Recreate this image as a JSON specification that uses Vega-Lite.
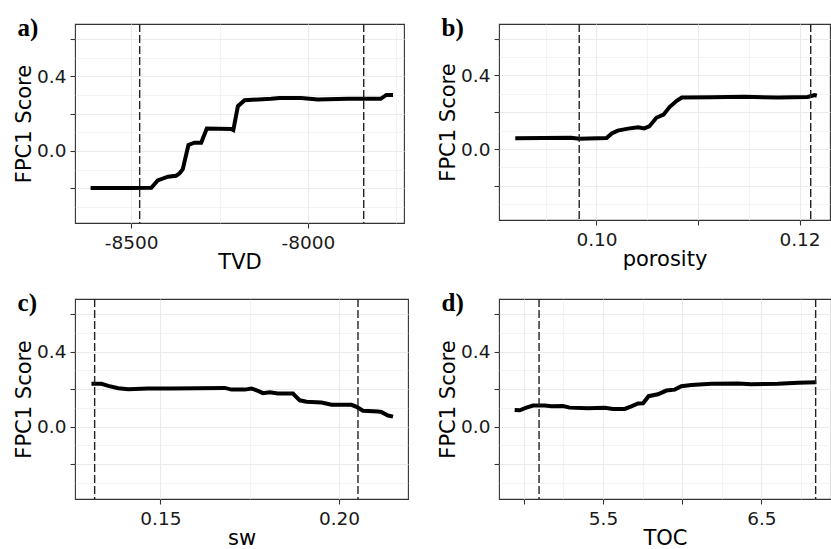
{
  "$schema": "https://vega.github.io/schema/vega-lite/v6.json",
  "padding": {"left": 13, "top": 15, "right": 0, "bottom": 0},
  "background": "white",
  "config": {
    "view": {"stroke": "#333333", "strokeWidth": 1.1},
    "axis": {
      "domain": false,
      "labelFont": "DejaVu Sans",
      "labelFontSize": 18.5,
      "labelColor": "#1a1a1a",
      "titleFont": "DejaVu Sans",
      "titleFontSize": 21,
      "titleFontWeight": "normal",
      "titleColor": "#000000",
      "tickSize": 5,
      "tickColor": "#333333",
      "tickWidth": 1.1,
      "gridColor": "#EBEBEB",
      "labelFlush": false,
      "labelOverlap": false
    },
    "axisX": {"labelPadding": 5, "titlePadding": 0},
    "axisY": {"labelPadding": 4, "titlePadding": 2},
    "title": {"anchor": "start", "frame": "bounds", "offset": -12, "dy": 6, "baseline": "alphabetic", "font": "Liberation Serif", "fontWeight": "bold", "fontSize": 25, "color": "#000000", "dx": 4}
  },
  "datasets": {
    "a": [
      {"x": -8615, "y": -0.199}, {"x": -8500, "y": -0.199}, {"x": -8443, "y": -0.197}, {"x": -8425, "y": -0.158},
      {"x": -8396, "y": -0.138}, {"x": -8373, "y": -0.133}, {"x": -8363, "y": -0.12}, {"x": -8354, "y": -0.098},
      {"x": -8338, "y": 0.032}, {"x": -8321, "y": 0.044}, {"x": -8302, "y": 0.044}, {"x": -8286, "y": 0.12},
      {"x": -8217, "y": 0.118}, {"x": -8211, "y": 0.112}, {"x": -8198, "y": 0.24}, {"x": -8179, "y": 0.272},
      {"x": -8104, "y": 0.279}, {"x": -8080, "y": 0.284}, {"x": -8019, "y": 0.284}, {"x": -7972, "y": 0.275},
      {"x": -7887, "y": 0.279}, {"x": -7794, "y": 0.279}, {"x": -7778, "y": 0.3}, {"x": -7759, "y": 0.3}
    ],
    "a_cut": [{"x": -8476}, {"x": -7842}],
    "b": [
      {"x": 0.0920, "y": 0.058}, {"x": 0.0975, "y": 0.061}, {"x": 0.0983, "y": 0.056}, {"x": 0.1010, "y": 0.060},
      {"x": 0.1015, "y": 0.085}, {"x": 0.1021, "y": 0.100}, {"x": 0.1031, "y": 0.111}, {"x": 0.1041, "y": 0.118},
      {"x": 0.1047, "y": 0.112}, {"x": 0.1052, "y": 0.123}, {"x": 0.1059, "y": 0.170}, {"x": 0.1066, "y": 0.187},
      {"x": 0.1072, "y": 0.228}, {"x": 0.1079, "y": 0.262}, {"x": 0.1084, "y": 0.280}, {"x": 0.1113, "y": 0.282},
      {"x": 0.1146, "y": 0.284}, {"x": 0.1179, "y": 0.280}, {"x": 0.1208, "y": 0.283}, {"x": 0.1215, "y": 0.293},
      {"x": 0.1217, "y": 0.290}
    ],
    "b_cut": [{"x": 0.0983}, {"x": 0.1211}],
    "c": [
      {"x": 0.1307, "y": 0.228}, {"x": 0.1335, "y": 0.228}, {"x": 0.1354, "y": 0.217}, {"x": 0.1382, "y": 0.204},
      {"x": 0.1410, "y": 0.199}, {"x": 0.1465, "y": 0.203}, {"x": 0.1531, "y": 0.203}, {"x": 0.1605, "y": 0.204},
      {"x": 0.1680, "y": 0.206}, {"x": 0.1699, "y": 0.197}, {"x": 0.1736, "y": 0.197}, {"x": 0.1755, "y": 0.203},
      {"x": 0.1773, "y": 0.190}, {"x": 0.1787, "y": 0.178}, {"x": 0.1806, "y": 0.183}, {"x": 0.1829, "y": 0.176},
      {"x": 0.1871, "y": 0.176}, {"x": 0.1890, "y": 0.140}, {"x": 0.1909, "y": 0.132}, {"x": 0.1951, "y": 0.128},
      {"x": 0.1979, "y": 0.117}, {"x": 0.2035, "y": 0.116}, {"x": 0.2049, "y": 0.105}, {"x": 0.2067, "y": 0.084},
      {"x": 0.2109, "y": 0.080}, {"x": 0.2118, "y": 0.078}, {"x": 0.2137, "y": 0.059}, {"x": 0.2151, "y": 0.053}
    ],
    "c_cut": [{"x": 0.1316}, {"x": 0.2053}],
    "d": [
      {"x": 4.942, "y": 0.089}, {"x": 4.974, "y": 0.087}, {"x": 5.016, "y": 0.101}, {"x": 5.058, "y": 0.112},
      {"x": 5.132, "y": 0.112}, {"x": 5.174, "y": 0.108}, {"x": 5.247, "y": 0.110}, {"x": 5.289, "y": 0.101},
      {"x": 5.405, "y": 0.098}, {"x": 5.511, "y": 0.100}, {"x": 5.563, "y": 0.094}, {"x": 5.637, "y": 0.094},
      {"x": 5.679, "y": 0.108}, {"x": 5.721, "y": 0.123}, {"x": 5.753, "y": 0.124}, {"x": 5.788, "y": 0.162},
      {"x": 5.847, "y": 0.172}, {"x": 5.900, "y": 0.192}, {"x": 5.953, "y": 0.197}, {"x": 5.995, "y": 0.215},
      {"x": 6.058, "y": 0.222}, {"x": 6.184, "y": 0.228}, {"x": 6.353, "y": 0.229}, {"x": 6.437, "y": 0.226},
      {"x": 6.605, "y": 0.228}, {"x": 6.732, "y": 0.233}, {"x": 6.847, "y": 0.236}
    ],
    "d_cut": [{"x": 5.096}, {"x": 6.843}]
  },
  "columns": 2,
  "spacing": {"row": 16, "column": 28},
  "concat": [
    {
      "width": 329, "height": 199,
      "title": {"text": "a)"},
      "encoding": {
        "x": {"field": "x", "type": "quantitative",
          "scale": {"domain": [-8659, -7728], "nice": false, "zero": false},
          "axis": {"title": "TVD", "values": [-8500, -8250, -8000, -7750],
            "labelExpr": "datum.value == -8500 ? '-8500' : (datum.value == -8000 ? '-8000' : '')",
            "tickOpacity": {"condition": {"test": "datum.value % 500 == 0", "value": 1}, "value": 0},
            "gridWidth": {"condition": {"test": "datum.value % 500 == 0", "value": 1.1}, "value": 0.55}}}
      },
      "layer": [
        {"data": {"name": "a"}, "mark": {"type": "line", "color": "#000000", "strokeWidth": 4},
          "encoding": {"y": {"field": "y", "type": "quantitative",
            "scale": {"domain": [-0.386, 0.68], "nice": false, "zero": false},
            "axis": {"title": "FPC1 Score", "values": [-0.3, -0.2, -0.1, 0, 0.1, 0.2, 0.3, 0.4, 0.5, 0.6],
              "labelExpr": "round(datum.value*10) == 0 ? '0.0' : (round(datum.value*10) == 4 ? '0.4' : '')",
              "tickOpacity": {"condition": {"test": "round(datum.value*10) % 2 == 0", "value": 1}, "value": 0},
              "gridWidth": {"condition": {"test": "round(datum.value*10) % 2 == 0", "value": 1.1}, "value": 0.55}}}}},
        {"data": {"name": "a_cut"}, "mark": {"type": "rule", "color": "#222222", "strokeWidth": 1.4, "strokeDash": [8, 3]}, "encoding": {}}
      ]
    },
    {
      "width": 331, "height": 196,
      "title": {"text": "b)"},
      "encoding": {
        "x": {"field": "x", "type": "quantitative",
          "scale": {"domain": [0.0904, 0.1230], "nice": false, "zero": false},
          "axis": {"title": "porosity", "values": [0.095, 0.1, 0.105, 0.11, 0.115, 0.12],
            "labelExpr": "round(datum.value*1000) == 100 ? '0.10' : (round(datum.value*1000) == 120 ? '0.12' : '')",
            "tickOpacity": {"condition": {"test": "round(datum.value*1000) % 10 == 0", "value": 1}, "value": 0},
            "gridWidth": {"condition": {"test": "round(datum.value*1000) % 10 == 0", "value": 1.1}, "value": 0.55}}}
      },
      "layer": [
        {"data": {"name": "b"}, "mark": {"type": "line", "color": "#000000", "strokeWidth": 4},
          "encoding": {"y": {"field": "y", "type": "quantitative",
            "scale": {"domain": [-0.386, 0.68], "nice": false, "zero": false},
            "axis": {"title": "FPC1 Score", "values": [-0.3, -0.2, -0.1, 0, 0.1, 0.2, 0.3, 0.4, 0.5, 0.6],
              "labelExpr": "round(datum.value*10) == 0 ? '0.0' : (round(datum.value*10) == 4 ? '0.4' : '')",
              "tickOpacity": {"condition": {"test": "round(datum.value*10) % 2 == 0", "value": 1}, "value": 0},
              "gridWidth": {"condition": {"test": "round(datum.value*10) % 2 == 0", "value": 1.1}, "value": 0.55}}}}},
        {"data": {"name": "b_cut"}, "mark": {"type": "rule", "color": "#222222", "strokeWidth": 1.4, "strokeDash": [8, 3]}, "encoding": {}}
      ]
    },
    {
      "width": 333, "height": 200,
      "title": {"text": "c)"},
      "encoding": {
        "x": {"field": "x", "type": "quantitative",
          "scale": {"domain": [0.1261, 0.2193], "nice": false, "zero": false},
          "axis": {"title": "sw", "values": [0.15, 0.175, 0.2],
            "labelExpr": "round(datum.value*1000) == 150 ? '0.15' : (round(datum.value*1000) == 200 ? '0.20' : '')",
            "tickOpacity": {"condition": {"test": "round(datum.value*1000) % 50 == 0", "value": 1}, "value": 0},
            "gridWidth": {"condition": {"test": "round(datum.value*1000) % 50 == 0", "value": 1.1}, "value": 0.55}}}
      },
      "layer": [
        {"data": {"name": "c"}, "mark": {"type": "line", "color": "#000000", "strokeWidth": 4},
          "encoding": {"y": {"field": "y", "type": "quantitative",
            "scale": {"domain": [-0.386, 0.68], "nice": false, "zero": false},
            "axis": {"title": "FPC1 Score", "values": [-0.3, -0.2, -0.1, 0, 0.1, 0.2, 0.3, 0.4, 0.5, 0.6],
              "labelExpr": "round(datum.value*10) == 0 ? '0.0' : (round(datum.value*10) == 4 ? '0.4' : '')",
              "tickOpacity": {"condition": {"test": "round(datum.value*10) % 2 == 0", "value": 1}, "value": 0},
              "gridWidth": {"condition": {"test": "round(datum.value*10) % 2 == 0", "value": 1.1}, "value": 0.55}}}}},
        {"data": {"name": "c_cut"}, "mark": {"type": "rule", "color": "#222222", "strokeWidth": 1.4, "strokeDash": [8, 3]}, "encoding": {}}
      ]
    },
    {
      "width": 332, "height": 200,
      "title": {"text": "d)"},
      "encoding": {
        "x": {"field": "x", "type": "quantitative",
          "scale": {"domain": [4.843, 6.94], "nice": false, "zero": false},
          "axis": {"title": "TOC", "values": [5, 5.25, 5.5, 5.75, 6, 6.25, 6.5, 6.75],
            "labelExpr": "round(datum.value*100) == 550 ? '5.5' : (round(datum.value*100) == 650 ? '6.5' : '')",
            "tickOpacity": {"condition": {"test": "round(datum.value*100) % 50 == 0", "value": 1}, "value": 0},
            "gridWidth": {"condition": {"test": "round(datum.value*100) % 50 == 0", "value": 1.1}, "value": 0.55}}}
      },
      "layer": [
        {"data": {"name": "d"}, "mark": {"type": "line", "color": "#000000", "strokeWidth": 4},
          "encoding": {"y": {"field": "y", "type": "quantitative",
            "scale": {"domain": [-0.386, 0.68], "nice": false, "zero": false},
            "axis": {"title": "FPC1 Score", "values": [-0.3, -0.2, -0.1, 0, 0.1, 0.2, 0.3, 0.4, 0.5, 0.6],
              "labelExpr": "round(datum.value*10) == 0 ? '0.0' : (round(datum.value*10) == 4 ? '0.4' : '')",
              "tickOpacity": {"condition": {"test": "round(datum.value*10) % 2 == 0", "value": 1}, "value": 0},
              "gridWidth": {"condition": {"test": "round(datum.value*10) % 2 == 0", "value": 1.1}, "value": 0.55}}}}},
        {"data": {"name": "d_cut"}, "mark": {"type": "rule", "color": "#222222", "strokeWidth": 1.4, "strokeDash": [8, 3]}, "encoding": {}}
      ]
    }
  ]
}
